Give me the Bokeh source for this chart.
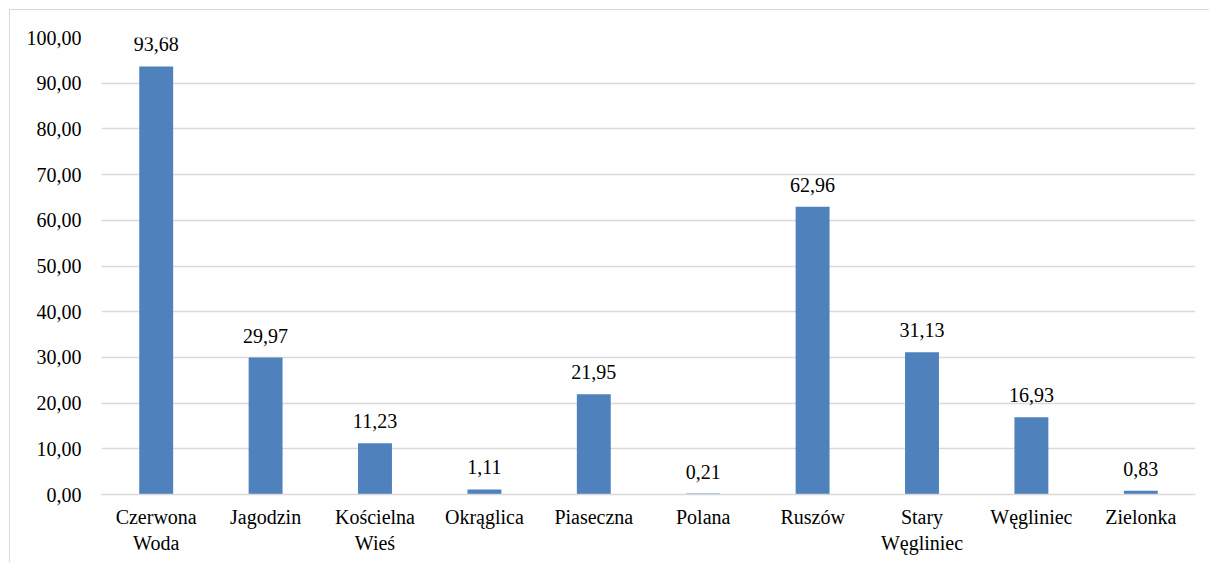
from bokeh.plotting import figure
from bokeh.models import ColumnDataSource, FactorRange, Range1d, SingleIntervalTicker, CustomJSTickFormatter
from bokeh.core.properties import value
from bokeh.embed import file_html
from bokeh.resources import INLINE

categories = ["Czerwona\nWoda", "Jagodzin", "Kościelna\nWieś", "Okrąglica", "Piaseczna",
              "Polana", "Ruszów", "Stary\nWęgliniec", "Węgliniec", "Zielonka"]
values = [93.68, 29.97, 11.23, 1.11, 21.95, 0.21, 62.96, 31.13, 16.93, 0.83]
labels = [f"{v:.2f}".replace(".", ",") for v in values]

FONT = "'Liberation Serif', 'Times New Roman', serif"
FS = "20px"

src = ColumnDataSource(dict(cat=categories, val=values, lab=labels))

p = figure(x_range=FactorRange(*categories, range_padding=0), y_range=Range1d(0, 100),
           width=1200, height=553, output_backend="svg", toolbar_location=None,
           min_border_left=91, min_border_right=15, min_border_top=27, min_border_bottom=69)
p.styles = {"border-left": "1px solid #d9d9d9", "border-top": "1px solid #d9d9d9",
            "margin-left": "9px", "margin-top": "9px"}

p.vbar(x="cat", top="val", width=0.31, source=src, color="#4f81bd", line_color=None)
p.text(x="cat", y="val", text="lab", source=src, text_align="center", text_baseline="alphabetic",
       y_offset=-22, text_font_size=FS, text_color="#000000", text_font=value(FONT))

p.outline_line_color = None
p.xgrid.grid_line_color = None
p.ygrid.grid_line_color = "#d9d9d9"
p.ygrid.grid_line_width = 1.5

p.yaxis.ticker = SingleIntervalTicker(interval=10)
p.yaxis.formatter = CustomJSTickFormatter(code="return tick.toFixed(2).replace('.', ',');")
p.yaxis.axis_line_color = None
p.yaxis.major_tick_line_color = None
p.yaxis.minor_tick_line_color = None
p.yaxis.major_label_standoff = 14
p.yaxis.major_label_text_font = FONT
p.yaxis.major_label_text_font_size = FS
p.yaxis.major_label_text_color = "#000000"

p.xaxis.axis_line_color = "#d9d9d9"
p.xaxis.axis_line_width = 1.5
p.xaxis.major_tick_line_color = None
p.xaxis.minor_tick_line_color = None
p.xaxis.major_label_standoff = 5
p.xaxis.major_label_text_font = FONT
p.xaxis.major_label_text_font_size = FS
p.xaxis.major_label_text_color = "#000000"
p.xaxis.major_label_orientation = "horizontal"

open("out.html", "w").write(file_html(p, INLINE))
